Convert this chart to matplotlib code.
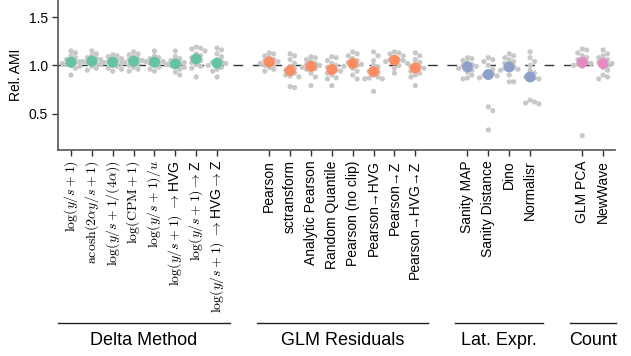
import numpy as np
import matplotlib
matplotlib.use('Agg')
import matplotlib.pyplot as plt

plt.rcParams['font.family'] = ['Liberation Sans', 'DejaVu Sans']
plt.rcParams['mathtext.fontset'] = 'cm'

# categories, per group
delta_labels = [r'$\log(y/s+1)$', r'$\mathrm{acosh}(2\alpha y/s+1)$', r'$\log(y/s+1/(4\alpha))$',
                r'$\log(\mathrm{CPM}+1)$', r'$\log(y/s+1)/u$', r'$\log(y/s+1)\ \to$HVG',
                r'$\log(y/s+1)\to$Z', r'$\log(y/s+1)\ \to$HVG$\to$Z']
glm_labels = ['Pearson', 'sctransform', 'Analytic Pearson', 'Random Quantile', 'Pearson (no clip)',
              'Pearson→HVG', 'Pearson→Z', 'Pearson→HVG→Z']
lat_labels = ['Sanity MAP', 'Sanity Distance', 'Dino', 'Normalisr']
count_labels = ['GLM PCA', 'NewWave']
group_names = ['Delta Method', 'GLM Residuals', 'Lat. Expr.', 'Count']

# big coloured dots (summary per method)
delta_mid = [1.033, 1.044, 1.033, 1.044, 1.033, 1.016, 1.067, 1.023]
glm_mid = [1.036, 0.946, 0.99, 0.957, 1.02, 0.936, 1.054, 0.974]
lat_mid = [0.984, 0.905, 0.984, 0.88]
count_mid = [1.03, 1.02]

# individual datasets (grey points)
delta_pts = [
    [1.15, 1.13, 1.10, 1.08, 1.06, 1.05, 1.04, 1.03, 1.02, 1.01, 1.00, 0.99, 0.97, 0.90],
    [1.15, 1.12, 1.10, 1.08, 1.07, 1.06, 1.05, 1.04, 1.03, 1.02, 1.01, 0.99, 0.97, 0.95],
    [1.11, 1.10, 1.09, 1.07, 1.06, 1.05, 1.04, 1.03, 1.02, 1.00, 0.99, 0.97, 0.96, 0.94],
    [1.14, 1.12, 1.11, 1.09, 1.07, 1.06, 1.05, 1.04, 1.03, 1.02, 1.00, 0.98, 0.96, 0.94],
    [1.15, 1.10, 1.08, 1.07, 1.05, 1.04, 1.04, 1.03, 1.02, 1.01, 1.00, 0.98, 0.96, 0.94],
    [1.15, 1.09, 1.07, 1.05, 1.04, 1.03, 1.02, 1.01, 1.00, 0.99, 0.98, 0.96, 0.93, 0.90],
    [1.19, 1.18, 1.17, 1.15, 1.12, 1.10, 1.08, 1.07, 1.05, 1.03, 1.01, 0.99, 0.97, 0.88],
    [1.18, 1.16, 1.12, 1.09, 1.06, 1.04, 1.03, 1.02, 1.01, 1.00, 0.98, 0.96, 0.94, 0.88],
]
glm_pts = [
    [1.13, 1.12, 1.10, 1.08, 1.06, 1.05, 1.04, 1.03, 1.02, 1.01, 1.00, 0.98, 0.96, 0.94],
    [1.12, 1.10, 1.06, 1.02, 0.99, 0.97, 0.95, 0.94, 0.92, 0.90, 0.89, 0.88, 0.78, 0.77],
    [1.09, 1.08, 1.06, 1.04, 1.02, 1.01, 1.00, 0.99, 0.98, 0.97, 0.96, 0.92, 0.88, 0.79],
    [1.09, 1.08, 1.05, 1.02, 1.00, 0.98, 0.96, 0.95, 0.94, 0.92, 0.90, 0.87, 0.86, 0.79],
    [1.14, 1.12, 1.10, 1.07, 1.05, 1.03, 1.02, 1.01, 1.00, 0.99, 0.97, 0.94, 0.90, 0.86],
    [1.14, 1.10, 1.05, 1.00, 0.98, 0.95, 0.94, 0.93, 0.90, 0.88, 0.87, 0.86, 0.86, 0.73],
    [1.14, 1.13, 1.12, 1.10, 1.08, 1.06, 1.06, 1.05, 1.04, 1.03, 1.02, 1.00, 0.97, 0.92],
    [1.13, 1.10, 1.06, 1.03, 1.01, 0.99, 0.98, 0.97, 0.96, 0.94, 0.92, 0.90, 0.88, 0.79],
]
lat_pts = [
    [1.08, 1.07, 1.05, 1.03, 1.01, 1.00, 0.99, 0.98, 0.97, 0.95, 0.93, 0.90, 0.87, 0.86],
    [1.08, 1.06, 1.04, 1.00, 0.96, 0.93, 0.91, 0.90, 0.89, 0.88, 0.87, 0.57, 0.53, 0.33],
    [1.12, 1.10, 1.08, 1.06, 1.04, 1.02, 0.99, 0.98, 0.97, 0.96, 0.95, 0.90, 0.83, 0.83],
    [1.14, 1.08, 1.04, 1.00, 0.95, 0.92, 0.89, 0.88, 0.87, 0.86, 0.64, 0.62, 0.61, 0.60],
]
count_pts = [
    [1.17, 1.16, 1.13, 1.10, 1.08, 1.06, 1.04, 1.03, 1.02, 1.01, 1.00, 0.99, 0.27],
    [1.16, 1.12, 1.10, 1.08, 1.06, 1.04, 1.03, 1.02, 1.00, 0.98, 0.95, 0.90, 0.88, 0.86],
]

colors = ['#66c2a5', '#fc8d62', '#8da0cb', '#e78ac3']
groups = [
    (delta_labels, delta_mid, delta_pts),
    (glm_labels, glm_mid, glm_pts),
    (lat_labels, lat_mid, lat_pts),
    (count_labels, count_mid, count_pts),
]

fig = plt.figure(figsize=(6.31, 3.56), dpi=100)
ax = fig.add_axes([0.092, 0.579, 0.883, 0.421])
ax.set_xlim(-0.62, 26.08)
ax.set_ylim(0.123, 1.679)
fig.canvas.draw()

# pixels per data unit, for the beeswarm layout
bb = ax.get_window_extent()
px_x = bb.width / (26.08 + 0.62)
px_y = bb.height / (1.679 - 0.123)
d = 4.4  # point diameter in px


def swarm(vals, center):
    placed = []
    xs = []
    for v in vals:
        y = v * px_y
        k = 0
        while True:
            off = ((k + 1) // 2) * d * (1 if k % 2 == 1 else -1) if k else 0.0
            if all((off - px) ** 2 + (y - py) ** 2 >= d * d for px, py in placed):
                break
            k += 1
        placed.append((off, y))
        xs.append(center + off / px_x)
    return xs


ax.axhline(1.0, color='#333333', lw=1.0, dashes=(7, 7), zorder=1)

ticks = []
ticklabels = []
start = 0.0
for gi, (labels, mids, pts) in enumerate(groups):
    pos = [start + i for i in range(len(labels))]
    for p, vals in zip(pos, pts):
        xs = swarm(vals, p)
        ax.scatter(xs, vals, s=14, color='#c8c8c8', edgecolor='none', zorder=2)
    ax.scatter(pos, mids, s=62, color=colors[gi], edgecolor='none', zorder=3)
    ticks += pos
    ticklabels += labels
    # group bracket and name below the tick labels
    trans = ax.get_xaxis_transform()
    ax.plot([pos[0] - 0.6, pos[-1] + 0.6], [-1.153, -1.153], color='#222222', lw=1.0,
            transform=trans, clip_on=False)
    ax.text((pos[0] + pos[-1]) / 2, -1.27, group_names[gi], transform=trans,
            ha='center', va='center', fontsize=13)
    start = pos[-1] + 2.5

ax.set_xticks(ticks)
ax.set_xticklabels(ticklabels, rotation=90, fontsize=10)
ax.set_yticks([0.5, 1.0, 1.5])
ax.set_yticklabels(['0.5', '1.0', '1.5'], fontsize=10)
ax.set_ylabel('Rel. AMI', fontsize=10)
for s in ['top', 'right']:
    ax.spines[s].set_visible(False)
for s in ['left', 'bottom']:
    ax.spines[s].set_color('#555555')
    ax.spines[s].set_linewidth(1.2)
ax.tick_params(color='#333333', length=4, width=1.0)

fig.savefig('out.png', dpi=100)
